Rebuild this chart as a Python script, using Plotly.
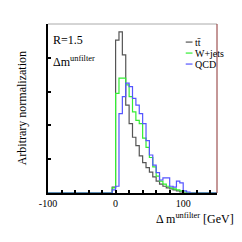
import numpy as np
import plotly.graph_objects as go

# bin left edges from -100 to 150, width 5 GeV
bin_width = 5
bin_lo = -100
n_bins = 50

# values for bins starting at -5 GeV ... (others zero)
first_bin = -5
ttbar_vals = [0.035, 0.905, 0.953, 0.817, 0.52, 0.41, 0.33, 0.28, 0.22, 0.18, 0.15,
              0.124, 0.095, 0.07, 0.053, 0.04, 0.03, 0.024, 0.018, 0.012, 0.006]
wjets_vals = [0.03, 0.59, 0.68, 0.68, 0.64, 0.57, 0.48, 0.43, 0.41, 0.325, 0.27,
              0.21, 0.154, 0.10, 0.07, 0.053, 0.04, 0.03, 0.024, 0.018, 0.012, 0.006]
qcd_vals = [0.018, 0.04, 0.47, 0.57, 0.65, 0.63, 0.56, 0.52, 0.47, 0.41, 0.31,
            0.225, 0.165, 0.12, 0.077, 0.089, 0.089, 0.04, 0.035, 0.07, 0.06, 0.012, 0.006]

series = [("tt̄", ttbar_vals, "#555555"),
          ("W+jets", wjets_vals, "#33ee33"),
          ("QCD", qcd_vals, "#5555ff")]

edges = bin_lo + bin_width * np.arange(n_bins + 1)

def full_hist(vals):
    h = np.zeros(n_bins)
    start = (first_bin - bin_lo) // bin_width
    h[start:start + len(vals)] = vals
    return h

fig = go.Figure()
for name, vals, col in series:
    h = full_hist(vals)
    fig.add_trace(go.Scatter(x=edges, y=np.append(h, h[-1]), mode="lines",
                             line=dict(color=col, width=1.2, shape="hv"),
                             showlegend=False, hoverinfo="skip"))

font = "Liberation Serif, Times New Roman, serif"
tickvals = list(range(-100, 151, 20))
ticktext = [str(v) if v in (-100, 0, 100) else "" for v in tickvals]

fig.update_layout(
    width=242, height=242,
    margin=dict(l=48, r=25, t=24, b=49),
    paper_bgcolor="white", plot_bgcolor="white",
    font=dict(family=font, size=10, color="black"),
    xaxis=dict(range=[-100, 150], tickvals=tickvals, ticktext=ticktext,
               ticks="inside", ticklen=3, tickwidth=1.5, tickcolor="black",
               showline=True, linecolor="black", linewidth=1.5,
               showgrid=False, zeroline=False, tickfont=dict(size=10, family=font)),
    yaxis=dict(range=[0, 1], tickvals=[0, 0.2, 0.4, 0.6, 0.8, 1.0],
               showticklabels=False, ticks="inside", ticklen=3, tickwidth=1.5,
               tickcolor="black", showline=True, linecolor="black", linewidth=2,
               showgrid=False, zeroline=False),
)

# frame top (gray) and right (dark red)
fig.add_shape(type="line", xref="paper", yref="paper", x0=0, x1=1, y0=1, y1=1,
              line=dict(color="#aaaaaa", width=1))
fig.add_shape(type="line", xref="paper", yref="paper", x0=1, x1=1, y0=0, y1=1,
              line=dict(color="#8b3030", width=1))

# text labels
fig.add_annotation(xref="paper", yref="paper", x=0.02, y=0.905, xanchor="left", yanchor="middle",
                   text="R=1.5", showarrow=False, font=dict(size=12, family=font))
fig.add_annotation(xref="paper", yref="paper", x=0.02, y=0.78, xanchor="left", yanchor="middle",
                   text="Δm<sup>unfilter</sup>", showarrow=False, font=dict(size=12, family=font))

# legend
leg_y = [0.893, 0.828, 0.763]
for (name, vals, col), ly in zip(series, leg_y):
    fig.add_shape(type="line", xref="paper", yref="paper", x0=0.815, x1=0.855, y0=ly, y1=ly,
                  line=dict(color=col, width=1.2))
    fig.add_annotation(xref="paper", yref="paper", x=0.86, y=ly, xanchor="left", yanchor="middle",
                       text=name, showarrow=False, font=dict(size=10, family=font))

# axis titles
fig.add_annotation(xref="paper", yref="paper", x=-0.155, y=0.5, textangle=-90,
                   xanchor="center", yanchor="middle", text="Arbitrary normalization",
                   showarrow=False, font=dict(size=12, family=font))
fig.add_annotation(xref="paper", yref="paper", x=1.11, y=-0.15, xanchor="right", yanchor="middle",
                   text="Δ m<sup>unfilter</sup> [GeV]", showarrow=False, font=dict(size=12, family=font))

fig.write_html("out.html", config={"displayModeBar": False},
               post_script="document.body.style.margin='0';")
